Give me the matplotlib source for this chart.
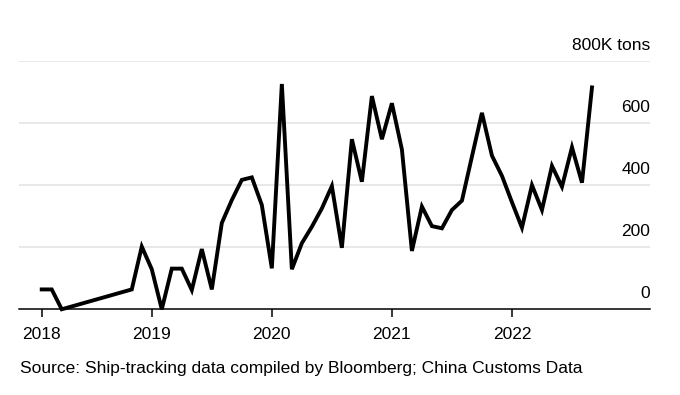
import numpy as np
import matplotlib
matplotlib.use("Agg")
import matplotlib.pyplot as plt
import matplotlib.transforms as mtransforms

plt.rcParams['font.family'] = ['Liberation Sans', 'DejaVu Sans']

# monthly values in thousand tons, starting Feb 2018 (None = no data, line just joins)
values = [64, 64, 0, None, None, None, None, None, None, 64,
          202, 129, 0, 131, 131, 62, 194, 64, 278, 352,
          417, 425, 336, 132, 726, 129, 213, 266, 325, 397,
          198, 548, 411, 687, 548, 664, 515, 188, 331, 268,
          261, 320, 350, 492, 633, 495, 430, 345, 263, 400,
          320, 462, 395, 522, 408, 715]

year_labels = ['2018', '2019', '2020', '2021', '2022']
year_months = [0, 11, 23, 35, 47]   # month index of each year tick (0 = Feb 2018)

y_ticks = [0, 200, 400, 600, 800]
y_labels = ['0', '200', '400', '600', '800K tons']

source = 'Source: Ship-tracking data compiled by Bloomberg; China Customs Data'

x = np.array([i for i, v in enumerate(values) if v is not None])
y = np.array([v for v in values if v is not None])

fig = plt.figure(figsize=(6.8, 3.95), dpi=100)
ax = fig.add_axes([0.0284, 0.217, 0.9275, 0.6285])

for v in y_ticks[1:]:
    ax.axhline(v, color='#e2e2e2', lw=1.1, zorder=0)

ax.plot(x, y, color='black', lw=2.8, solid_joinstyle='miter', zorder=3,
        clip_on=False)

ax.set_xlim(-2.24, 60.8)
ax.set_ylim(0, 800)

for s in ['top', 'right', 'left']:
    ax.spines[s].set_visible(False)
ax.spines['bottom'].set_linewidth(1.1)
ax.spines['bottom'].set_color('black')

ax.set_yticks([])
ax.set_xticks(year_months)
ax.set_xticklabels(year_labels, fontsize=12.5)
ax.tick_params(axis='x', length=6, width=1.1, pad=7, colors='black')

# y labels sit above the gridlines, right aligned
trans = mtransforms.blended_transform_factory(ax.transAxes, ax.transData)
for v, lab in zip(y_ticks, y_labels):
    ax.annotate(lab, xy=(1.0, v), xycoords=trans, xytext=(0, 8),
                textcoords='offset points', ha='right', va='baseline',
                fontsize=12.5, color='black', annotation_clip=False)

fig.text(20 / 680, 1 - 369 / 395, source, fontsize=12.5, va='center',
         ha='left', color='black')

fig.savefig('out.png', dpi=100)
